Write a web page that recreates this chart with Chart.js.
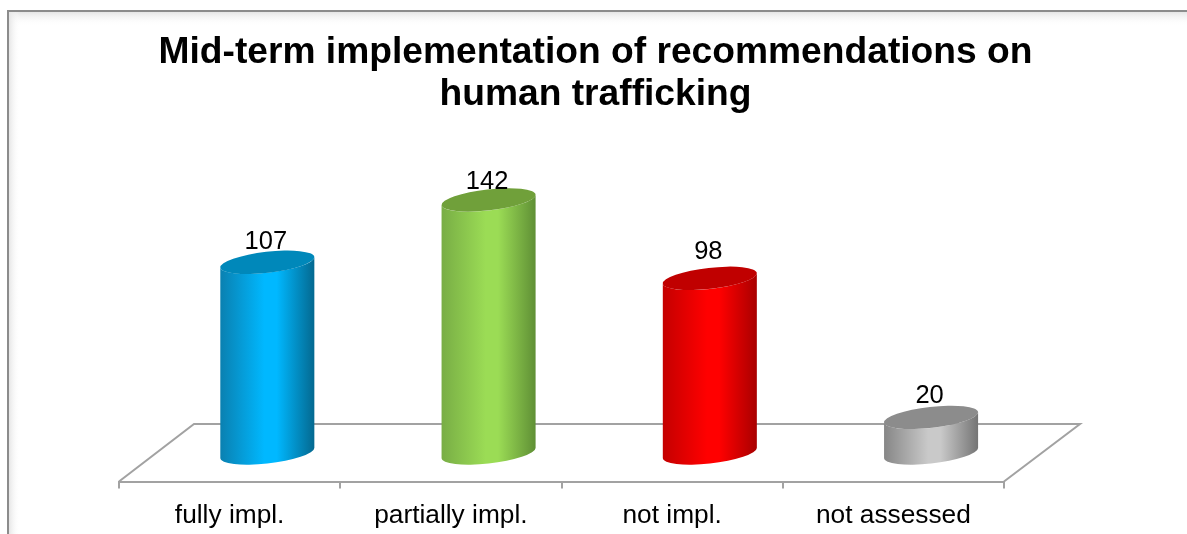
<!DOCTYPE html>
<html><head><meta charset="utf-8">
<script src="https://cdn.jsdelivr.net/npm/chart.js@4"></script>
<style>html,body{margin:0;padding:0;background:#fff;overflow:hidden}#w{position:relative;width:1187px;height:534px}</style>
</head><body><div id="w"><canvas id="c" width="1187" height="534"></canvas></div>
<script>
const categories = ["fully impl.", "partially impl.", "not impl.", "not assessed"];
const values = [107, 142, 98, 20];
const mainColors = ["#00b8ff", "#9bdc55", "#ff0000", "#c9c9c9"];
const leftColors = ["#0a80b0", "#78ad45", "#c40000", "#868686"];
const rightColors = ["#04688f", "#5f8f35", "#a80000", "#747474"];
const topColors = ["#0088ba", "#70a03a", "#c00000", "#8c8c8c"];
const labelLift = [13.5, 11.2, 19.5, 14.5];
const titleLines = ["Mid-term implementation of recommendations on", "human trafficking"];
const DX = 37.7, DY = -28.5, AXIS = "#a2a2a2", FONT = "'Liberation Sans', Arial, sans-serif";

const cylinders = {
  id: "cylinders",
  beforeDraw(chart) {
    const c = chart.ctx, W = chart.width, H = chart.height;
    c.save();
    c.fillStyle = "#fff"; c.fillRect(0, 0, W, H);
    let g = c.createLinearGradient(0, 12, 0, 26);
    g.addColorStop(0, "#e6e6e6"); g.addColorStop(1, "rgba(255,255,255,0)");
    c.fillStyle = g; c.fillRect(9, 12, W - 9, 14);
    g = c.createLinearGradient(9, 0, 20, 0);
    g.addColorStop(0, "#e6e6e6"); g.addColorStop(1, "rgba(255,255,255,0)");
    c.fillStyle = g; c.fillRect(9, 12, 11, H - 12);
    c.strokeStyle = "#8c8c8c"; c.lineWidth = 2;
    c.beginPath(); c.moveTo(W, 11); c.lineTo(8, 11); c.lineTo(8, H); c.stroke();
    c.restore();
  },
  beforeDatasetsDraw(chart) {
    const c = chart.ctx, a = chart.chartArea;
    c.save();
    c.strokeStyle = AXIS; c.lineWidth = 2;
    c.beginPath();
    c.moveTo(a.left, a.bottom);
    c.lineTo(a.left + 75, a.bottom - 57.5);
    c.lineTo(a.right + 76, a.bottom - 57.5);
    c.lineTo(a.right, a.bottom);
    c.stroke();
    c.restore();
  },
  beforeDatasetDraw() { return false; },
  afterDatasetsDraw(chart) {
    const c = chart.ctx, meta = chart.getDatasetMeta(0);
    const phi = -6.5 * Math.PI / 180;
    meta.data.forEach((el, i) => {
      const cx = el.x + DX, rx = el.width / 2 + 0.4, ry = 10.5;
      const topY = el.y + DY, botY = el.base + DY;
      const t0 = Math.atan(-(ry / rx) * Math.tan(phi));
      const g = c.createLinearGradient(cx - rx, 0, cx + rx, 0);
      g.addColorStop(0, leftColors[i]);
      g.addColorStop(0.47, mainColors[i]);
      g.addColorStop(0.6, mainColors[i]);
      g.addColorStop(1, rightColors[i]);
      c.save();
      c.fillStyle = g;
      c.beginPath();
      c.ellipse(cx, botY, rx, ry, phi, t0, t0 + Math.PI, false);
      c.ellipse(cx, topY, rx, ry, phi, t0 + Math.PI, t0, true);
      c.closePath();
      c.fill();
      c.fillStyle = topColors[i];
      c.beginPath();
      c.ellipse(cx, topY, rx, ry, phi, 0, Math.PI * 2);
      c.fill();
      c.fillStyle = "#000";
      c.font = "25.5px " + FONT;
      c.textAlign = "center";
      c.textBaseline = "alphabetic";
      c.fillText(String(values[i]), cx - 1.5, topY - labelLift[i]);
      c.restore();
    });
  }
};

new Chart(document.getElementById("c"), {
  type: "bar",
  data: { labels: categories, datasets: [{ data: values, backgroundColor: mainColors, barPercentage: 0.424, categoryPercentage: 1 }] },
  plugins: [cylinders],
  options: {
    responsive: false, animation: false, devicePixelRatio: 1,
    layout: { padding: { left: 4, right: 0, top: 32, bottom: 0 } },
    plugins: {
      legend: { display: false }, tooltip: { enabled: false },
      title: { display: true, text: titleLines, color: "#000", align: "center",
        font: { family: FONT, size: 37.2, weight: "bold", lineHeight: 1.12 }, padding: { top: 0, bottom: 81 } }
    },
    scales: {
      x: { offset: true, afterFit(s) { s.height = 52.5; },
        grid: { display: true, drawOnChartArea: false, color: AXIS, lineWidth: 2, tickLength: 7, offset: true },
        border: { display: true, color: AXIS, width: 2 },
        ticks: { color: "#000", font: { family: FONT, size: 26.3 }, padding: 11, maxRotation: 0 } },
      y: { display: true, min: 0, max: 160, afterFit(s) { s.width = 115; },
        ticks: { display: false }, grid: { display: false }, border: { display: false } },
      y1: { display: true, position: "right", min: 0, max: 160, afterFit(s) { s.width = 183; },
        ticks: { display: false }, grid: { display: false }, border: { display: false } }
    }
  }
});
</script></body></html>
